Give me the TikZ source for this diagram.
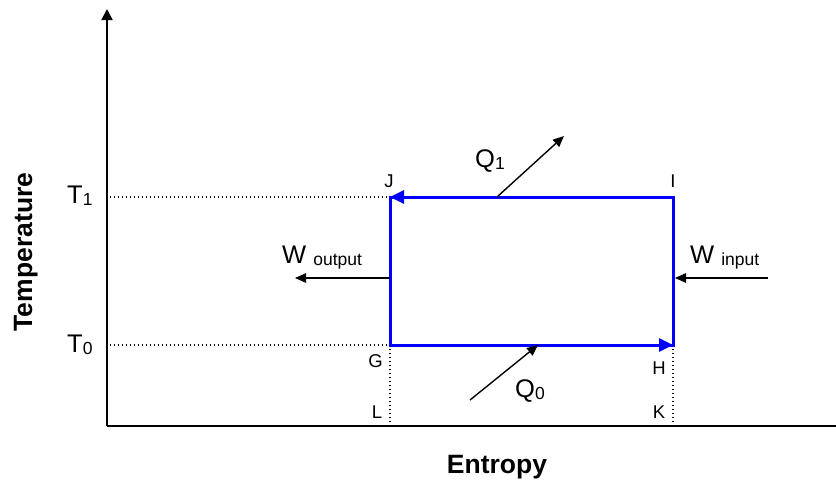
\documentclass[tikz,border=0pt]{standalone}
\usepackage{fontspec}
\setmainfont{Liberation Sans}
\usetikzlibrary{arrows.meta}
\newcommand\lsub[1]{\raisebox{-2pt}{\fontsize{17.5}{17.5}\selectfont #1}}
\begin{document}
\begin{tikzpicture}[x=1pt,y=-1pt,
  axis/.style={line width=1.8pt,black},
  cycleline/.style={line width=3pt,blue,line join=miter},
  cyclearrow/.style={line width=3pt,blue,-{Triangle[width=13pt,length=14pt]}},
  flow/.style={line width=1.4pt,black,-{Triangle[width=9.5pt,length=11pt]}},
  guide/.style={line width=1.2pt,black,dash pattern=on 1.2pt off 2.8pt},
  biglabel/.style={font=\fontsize{25.5}{25.5}\selectfont,inner sep=0pt,anchor=base west},
  ptlabel/.style={font=\fontsize{18.5}{18.5}\selectfont,inner sep=0pt,anchor=base},
  title/.style={font=\fontsize{26.5}{26.5}\selectfont\bfseries,inner sep=0pt,anchor=base}]
\useasboundingbox (0,0) rectangle (836,483);
% axes
\coordinate (O) at (107,426);
\coordinate (Ytop) at (107,9);
\coordinate (Xend) at (836,426);
% cycle corners
\coordinate (G) at (390,345);
\coordinate (H) at (673,345);
\coordinate (I) at (673,197);
\coordinate (J) at (390,197);
\coordinate (L) at (390,426);
\coordinate (K) at (673,426);
\coordinate (T1s) at (110,197);
\coordinate (T0s) at (110,345);
% arrow end points
\coordinate (Q1a) at (497,197);
\coordinate (Q1b) at (564,136);
\coordinate (Q0a) at (470,400);
\coordinate (Q0b) at (538,345);
\coordinate (Woa) at (390,278);
\coordinate (Wob) at (295,278);
\coordinate (Wia) at (768,278);
\coordinate (Wib) at (675,278);

\draw[axis,-{Triangle[width=11pt,length=11pt]}] (O) -- (Ytop);
\draw[axis] (O) -- (Xend);

\draw[guide] (T1s) -- (J);
\draw[guide] (T0s) -- (G);
\draw[guide] (G) -- (L);
\draw[guide] (H) -- (K);

\draw[cycleline] (G) -- (H) -- (I) -- (J) -- cycle;
\draw[cyclearrow] (I) -- (J);
\draw[cyclearrow] (G) -- (H);

\draw[flow] (Q1a) -- (Q1b);
\draw[flow] (Q0a) -- (Q0b);
\draw[flow] (Woa) -- (Wob);
\draw[flow] (Wia) -- (Wib);

\node[biglabel] (t1) at (67,203) {T\lsub{1}};
\node[biglabel] (t0) at (67,352) {T\lsub{0}};
\node[biglabel] (q1) at (475,167) {Q\lsub{1}};
\node[biglabel] (q0) at (515,397) {Q\lsub{0}};
\node[biglabel] (wo) at (282,263) {W \lsub{output}};
\node[biglabel] (wi) at (690,263) {W \lsub{input}};

\node[ptlabel] (jl) at (389,187) {J};
\node[ptlabel] (il) at (673,187) {I};
\node[ptlabel] (gl) at (375.5,367) {G};
\node[ptlabel] (hl) at (659,374) {H};
\node[ptlabel] (ll) at (377,418) {L};
\node[ptlabel] (kl) at (659,418) {K};

\node[title,rotate=90] (ty) at (32,252) {Temperature};
\node[title] (tx) at (497,473) {Entropy};
\end{tikzpicture}
\end{document}
